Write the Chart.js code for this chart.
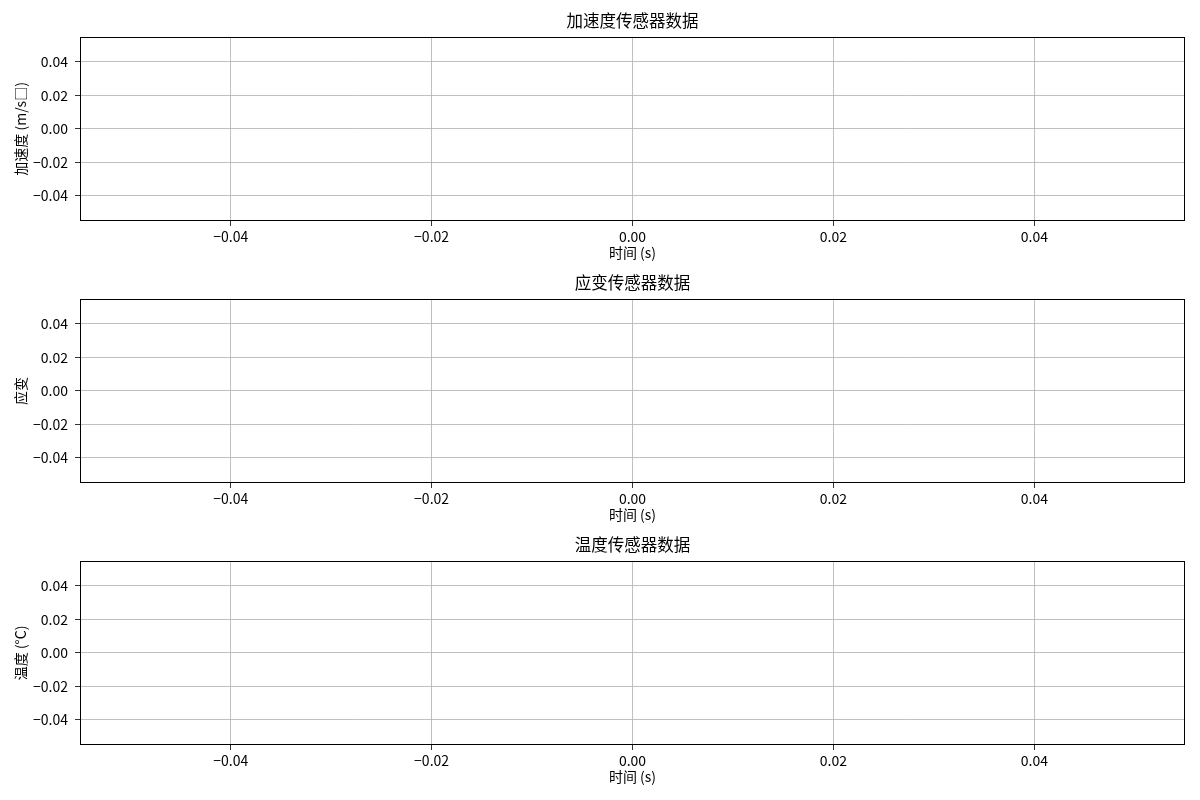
<!DOCTYPE html>
<html>
<head>
<meta charset="utf-8">
<script src="https://cdn.jsdelivr.net/npm/chart.js@4/dist/chart.umd.min.js"></script>
<style>
  body { margin: 0; background: #fff; }
  .wrap { position: relative; width: 1200px; height: 800px; }
  canvas { position: absolute; left: 0; }
</style>
</head>
<body>
<div class="wrap">
  <canvas id="c0" width="1200" height="262" style="top:0px"></canvas>
  <canvas id="c1" width="1200" height="262" style="top:262px"></canvas>
  <canvas id="c2" width="1200" height="262" style="top:524px"></canvas>
</div>
<script>
// sensor data (recorded arrays are empty in the source figure)
const titles = ["加速度传感器数据", "应变传感器数据", "温度传感器数据"];
const yLabels = ["加速度 (m/s□)", "应变", "温度 (°C)"];
const xLabel = "时间 (s)";
const timeData = [];
const accelData = [];
const strainData = [];
const tempData = [];
const seriesList = [accelData, strainData, tempData];
const xTicks = [-0.04, -0.02, 0.0, 0.02, 0.04];
const yTicks = [-0.04, -0.02, 0.0, 0.02, 0.04];
const axisMin = -0.055;
const axisMax = 0.055;

const FONT = '"Noto Sans CJK SC", "DejaVu Sans", sans-serif';
Chart.defaults.font.family = FONT;
Chart.defaults.color = "#000";

const fmt = (v) => v.toFixed(2).replace("-", "\u2212");

// draw the full black frame round the plot area like matplotlib
const frame = {
  id: "frame",
  afterDraw(chart) {
    const { ctx, chartArea: a } = chart;
    ctx.save();
    ctx.strokeStyle = "#000";
    ctx.lineWidth = 1;
    ctx.strokeRect(Math.round(a.left) + 0.5, Math.round(a.top) + 0.5,
      Math.round(a.right - a.left) - 1, Math.round(a.bottom - a.top) - 1);
    ctx.restore();
  },
};

function axisOpts(tickVals, isX, label) {
  return {
    type: "linear",
    min: axisMin,
    max: axisMax,
    afterBuildTicks: (axis) => {
      axis.ticks = tickVals.map((v) => ({ value: v }));
    },
    afterFit: (scale) => {
      if (isX) scale.height = 41;
      else scale.width = 80;
    },
    grid: { color: "#b0b0b0", lineWidth: 0.8, tickColor: "#000", tickLength: 5 },
    border: { display: false },
    ticks: {
      font: { size: 14 },
      padding: isX ? 2 : 7,
      maxRotation: 0,
      callback: (v) => fmt(v),
    },
    title: {
      display: true,
      text: label,
      font: { size: 14 },
      padding: isX ? { top: 0, bottom: 1 } : { top: 12, bottom: 0 },
    },
  };
}

seriesList.forEach((series, i) => {
  const ctx = document.getElementById("c" + i);
  new Chart(ctx, {
    type: "line",
    data: {
      datasets: [
        {
          label: titles[i],
          data: series.map((v, k) => ({ x: timeData[k], y: v })),
          borderColor: "#1f77b4",
          borderWidth: 1.5,
          pointRadius: 0,
        },
      ],
    },
    options: {
      responsive: false,
      animation: false,
      devicePixelRatio: 1,
      layout: { padding: { left: 0, right: 15, top: 0, bottom: 0 } },
      plugins: {
        legend: { display: false },
        tooltip: { enabled: false },
        title: {
          display: true,
          text: titles[i],
          fullSize: false,
          font: { size: 16.5, weight: "normal" },
          color: "#000",
          padding: { top: 11, bottom: 6 },
        },
      },
      scales: {
        x: axisOpts(xTicks, true, xLabel),
        y: axisOpts(yTicks, false, yLabels[i]),
      },
    },
    plugins: [frame],
  });
});
</script>
</body>
</html>
